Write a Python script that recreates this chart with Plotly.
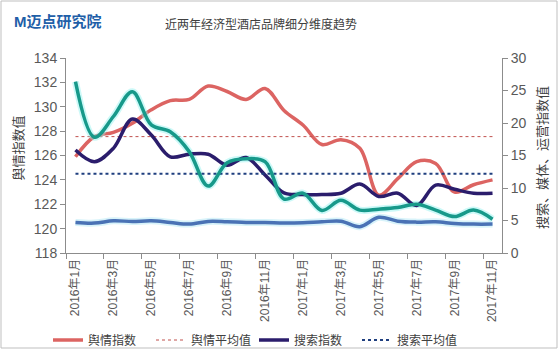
import plotly.graph_objects as go

# Months on the category axis
months = [
    "2016年1月", "2016年2月", "2016年3月", "2016年4月", "2016年5月", "2016年6月",
    "2016年7月", "2016年8月", "2016年9月", "2016年10月", "2016年11月", "2016年12月",
    "2017年1月", "2017年2月", "2017年3月", "2017年4月", "2017年5月", "2017年6月",
    "2017年7月", "2017年8月", "2017年9月", "2017年10月", "2017年11月",
]

# 舆情指数 (left axis)
yuqing = [125.9, 127.55, 127.9, 128.65, 129.75, 130.5, 130.6, 131.7, 131.25, 130.6,
          131.5, 129.7, 128.5, 126.9, 127.3, 126.6, 122.75, 124.1, 125.5, 125.35,
          123.0, 123.6, 124.0]
yuqing_avg = 127.55

# 搜索指数 (right axis)
sousuo = [15.85, 14.05, 16.1, 20.6, 18.15, 14.8, 15.2, 15.2, 13.5, 14.7,
          12.0, 9.25, 9.0, 9.0, 9.2, 10.6, 8.7, 9.2, 7.3, 10.45,
          9.8, 9.2, 9.2]
sousuo_avg = 12.2

# 媒体指数 (right axis)
meiti = [26.35, 17.8, 21.0, 24.8, 19.7, 18.65, 15.6, 10.3, 13.9, 14.5,
         14.05, 8.3, 9.2, 6.55, 8.1, 6.6, 6.75, 7.0, 7.5, 6.6,
         5.6, 6.6, 5.2]

# 运营指数 (right axis)
yunying = [4.7, 4.6, 4.95, 4.85, 4.95, 4.7, 4.45, 4.85, 4.8, 4.7,
           4.7, 4.6, 4.65, 4.8, 4.9, 4.05, 5.5, 4.9, 4.75, 4.8,
           4.55, 4.45, 4.45]

RED = "#dc6462"
NAVY = "#2b1d6c"
TEAL = "#17998a"
BLUE = "#4a72b5"
FONT = "Liberation Sans, Noto Sans CJK SC, sans-serif"

W, H = 558, 349
ML, MR, MT, MB = 66, 56, 58, 96
PW, PH = W - ML - MR, H - MT - MB


def px_x(x):
    return (x - ML) / PW


def px_y(y):
    return (H - MB - y) / PH


fig = go.Figure()

# soft halos behind media / operations lines
fig.add_trace(go.Scatter(x=months, y=meiti, yaxis="y2", mode="lines",
                         line=dict(color="#8ff3f0", width=7, shape="spline"),
                         opacity=0.45, showlegend=False, hoverinfo="skip"))
fig.add_trace(go.Scatter(x=months, y=yunying, yaxis="y2", mode="lines",
                         line=dict(color="#a9e6f5", width=7, shape="spline"),
                         opacity=0.45, showlegend=False, hoverinfo="skip"))

fig.add_trace(go.Scatter(x=months, y=yuqing, name="舆情指数", mode="lines",
                         line=dict(color=RED, width=3.5, shape="spline")))
fig.add_trace(go.Scatter(x=months, y=[yuqing_avg] * len(months), name="舆情平均值",
                         mode="lines", line=dict(color="#c0504d", width=1, dash="dot")))
fig.add_trace(go.Scatter(x=months, y=sousuo, name="搜索指数", yaxis="y2", mode="lines",
                         line=dict(color=NAVY, width=3.5, shape="spline")))
fig.add_trace(go.Scatter(x=months, y=[sousuo_avg] * len(months), name="搜索平均值",
                         yaxis="y2", mode="lines",
                         line=dict(color="#1f3f7f", width=2, dash="dot")))
fig.add_trace(go.Scatter(x=months, y=meiti, name="媒体指数", yaxis="y2", mode="lines",
                         line=dict(color=TEAL, width=3.5, shape="spline"),
                         showlegend=False))
fig.add_trace(go.Scatter(x=months, y=yunying, name="运营指数", yaxis="y2", mode="lines",
                         line=dict(color=BLUE, width=3.5, shape="spline"),
                         showlegend=False))

axis_common = dict(showgrid=False, zeroline=False, showline=True,
                   linecolor="#8c8c8c", linewidth=1, ticks="outside",
                   tickcolor="#8c8c8c", ticklen=5,
                   tickfont=dict(size=14, color="#595959", family=FONT))

fig.update_layout(
    width=W, height=H,
    margin=dict(l=ML, r=MR, t=MT, b=MB, autoexpand=False),
    paper_bgcolor="white", plot_bgcolor="white",
    font=dict(family=FONT, color="#404040"),
    xaxis=dict(type="category", range=[-0.5, len(months) - 0.5],
               tickmode="linear", tick0=0, dtick=2, tickson="boundaries",
               tickangle=-90, showgrid=False, zeroline=False, showline=True,
               linecolor="#8c8c8c", ticks="outside", tickcolor="#8c8c8c", ticklen=5,
               tickfont=dict(size=12, color="#595959", family=FONT)),
    yaxis=dict(range=[118, 134], dtick=2, **axis_common),
    yaxis2=dict(range=[0, 30], dtick=5, overlaying="y", side="right", **axis_common),
    legend=dict(orientation="h", x=px_x(48), xanchor="left", y=px_y(340),
                yanchor="middle", entrywidth=58, entrywidthmode="pixels",
                font=dict(size=12, color="#404040", family=FONT),
                bgcolor="rgba(0,0,0,0)"),
    showlegend=True,
)

fig.add_annotation(text="近两年经济型酒店品牌细分维度趋势", xref="paper", yref="paper",
                   x=px_x(261), y=px_y(25), xanchor="center", yanchor="middle",
                   showarrow=False, font=dict(size=12, color="#404040", family=FONT))
fig.add_annotation(text="<b>M</b><b>迈点研究院</b>", xref="paper", yref="paper",
                   x=px_x(12), y=px_y(21), xanchor="left", yanchor="middle",
                   showarrow=False, font=dict(size=15, color="#1f5fa8", family=FONT))
fig.add_annotation(text="舆情指数值", xref="paper", yref="paper",
                   x=px_x(17.5), y=px_y(148), xanchor="center", yanchor="middle",
                   textangle=-90, showarrow=False,
                   font=dict(size=13, color="#404040", family=FONT))
fig.add_annotation(text="搜索、媒体、运营指数值", xref="paper", yref="paper",
                   x=px_x(542), y=px_y(158), xanchor="center", yanchor="middle",
                   textangle=-90, showarrow=False,
                   font=dict(size=13, color="#404040", family=FONT))

# outer chart frame
fig.add_shape(type="rect", xref="paper", yref="paper",
              x0=px_x(1), x1=px_x(W - 1), y0=px_y(H - 1), y1=px_y(1),
              line=dict(color="#bfbfbf", width=1), layer="below")

fig.write_html("out.html")
